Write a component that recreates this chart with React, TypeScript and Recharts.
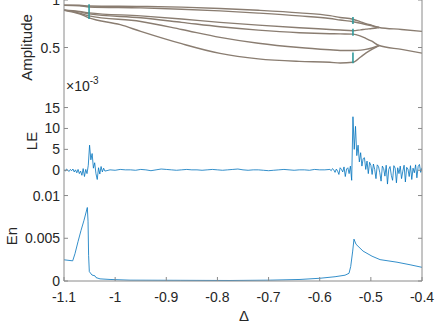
import React from 'react';
import { ComposedChart, Line, XAxis, YAxis } from 'recharts';

const FONT = '"Liberation Sans", Arial, Helvetica, sans-serif';
const TICK_COLOR = '#262626';
const AXIS_GRAY = '#8a8a8a';
const TL = 4;

// ---------- ticks ----------
const deltaTicks = [-1.1, -1, -0.9, -0.8, -0.7, -0.6, -0.5, -0.4];
const ampTicks = [0.5, 1];
const leTicks = [0, 5, 10, 15];
const enTicks = [0, 0.005, 0.01];
const deltaDomain: [number, number] = [-1.1, -0.4];

// ---------- panel 1: bifurcation branches [Δ, amplitude] ----------
const branch1 = [[-1.1, 0.945], [-1.07, 0.945], [-1.051, 0.9375], [-0.95, 0.932], [-0.87, 0.925], [-0.795, 0.911], [-0.72, 0.892], [-0.64, 0.865], [-0.58, 0.835], [-0.56, 0.816], [-0.535, 0.797], [-0.52, 0.77], [-0.51, 0.752], [-0.498, 0.733], [-0.484, 0.711], [-0.44, 0.69], [-0.4, 0.67]];
const branch2 = [[-1.1, 0.945], [-1.07, 0.94], [-1.051, 0.927], [-0.95, 0.917], [-0.87, 0.903], [-0.795, 0.885], [-0.72, 0.862], [-0.64, 0.833], [-0.58, 0.805], [-0.56, 0.789], [-0.535, 0.771], [-0.52, 0.755], [-0.51, 0.742], [-0.498, 0.727], [-0.484, 0.711]];
const branch3 = [[-1.1, 0.893], [-1.07, 0.88], [-1.051, 0.865], [-0.95, 0.833], [-0.87, 0.8], [-0.795, 0.764], [-0.72, 0.735], [-0.64, 0.708], [-0.58, 0.69], [-0.56, 0.684], [-0.535, 0.677], [-0.52, 0.686], [-0.51, 0.693], [-0.498, 0.7], [-0.484, 0.711]];
const branch4 = [[-1.1, 0.893], [-1.07, 0.875], [-1.051, 0.854], [-0.95, 0.8125], [-0.87, 0.765], [-0.795, 0.719], [-0.72, 0.683], [-0.64, 0.656], [-0.58, 0.645], [-0.56, 0.643], [-0.535, 0.641], [-0.52, 0.62], [-0.51, 0.597], [-0.498, 0.566], [-0.484, 0.521], [-0.44, 0.48], [-0.4, 0.441]];
const branch5 = [[-1.1, 0.893], [-1.07, 0.862], [-1.051, 0.833], [-0.95, 0.774], [-0.87, 0.69], [-0.795, 0.607], [-0.72, 0.545], [-0.64, 0.5], [-0.58, 0.476], [-0.56, 0.469], [-0.535, 0.469], [-0.52, 0.472], [-0.51, 0.48], [-0.498, 0.495], [-0.484, 0.521]];
const branch6 = [[-1.1, 0.893], [-1.07, 0.855], [-1.051, 0.8125], [-0.99, 0.74], [-0.95, 0.67], [-0.87, 0.54], [-0.795, 0.4375], [-0.72, 0.38], [-0.64, 0.354], [-0.58, 0.345], [-0.56, 0.337], [-0.535, 0.344], [-0.52, 0.4], [-0.51, 0.44], [-0.498, 0.48], [-0.484, 0.521]];
const branches = [branch1, branch2, branch3, branch4, branch5, branch6];

// transient bands at the bifurcation points
const band1 = [[-1.051, 0.955], [-1.051, 0.799]];
const band2 = [[-0.535, 0.82], [-0.535, 0.748]];
const band3 = [[-0.535, 0.698], [-0.535, 0.625]];
const band4 = [[-0.535, 0.448], [-0.535, 0.333]];
const bands = [band1, band2, band3, band4];

// ---------- panel 2: LE (×10^-3) ----------
const leStartA = -1.1, leStepA = 0.0025;
const leA = [0.1, -0.2, 0.3, 0.0, -0.3, 0.2, -0.1, 0.3, -0.4, 0.1, -0.6, 0.2, -0.8, -0.2, -1.2, 0.4, -1.5, 0.2, -0.8, 1.2, 6.0, 2.5, 4.0, 0.5, 1.8, -0.8, -2.2, 0.6, -0.9, 0.9, -0.4, 0.5, -0.2];
const leStartB = -1.01, leStepB = 0.01;
const leB = [0.1, 0.0, 0.2, 0.1, 0.1, 0.0, 0.2, 0.1, -0.1, 0.1, 0.3, 0.2, 0.1, 0.0, 0.1, 0.2, 0.1, 0.1, 0.0, 0.1, 0.2, 0.1, 0.0, 0.1, 0.2, 0.3, 0.1, 0.0, 0.1, 0.1, 0.0, -0.1, 0.0, 0.1, 0.2, 0.1, 0.0, 0.1, 0.1, 0.0, 0.2, 0.1, 0.1];
const leStartC = -0.58, leStepC = 0.0025;
const leC = [0.2, -0.1, 0.4, 0.1, -0.5, 0.3, -0.2, -1.0, 0.6, 0.2, -0.4, 0.8, -1.5, 0.3, 0.6, -0.8, 1.0, -2.4, 12.8, 5.0, 10.5, 3.5, 6.0, 2.0, 4.2, 1.0, 2.8, 3.0, 0.2, 2.2, -0.8, 1.9, 1.2, -1.0, 1.5, 0.2, -2.0, 1.3, 0.9, -0.6, -2.6, 1.0, 0.4, -1.4, 1.2, -3.3, 0.2, 0.9, -1.2, -2.4, 1.1, 0.5, -3.0, 0.6, -0.8, 1.0, -2.0, -0.2, 1.2, -2.8, 0.7, 0.3, -1.5, 1.1, -2.2, 0.5, -0.6, 1.3, -1.8, 0.9, 1.4, -0.5, 0.6];

// ---------- panel 3: En ----------
const enX = [-1.1, -1.083, -1.0785, -1.0726, -1.0668, -1.0609, -1.0544, -1.053, -1.0519, -1.0505, -1.0453, -1.0394, -1.0374, -1.0296, -1.01, -0.971, -0.873, -0.7754, -0.697, -0.6385, -0.5994, -0.57, -0.5505, -0.5427, -0.5394, -0.5355, -0.533, -0.529, -0.5153, -0.4977, -0.482, -0.4489, -0.4234, -0.4];
const enY = [0.00248, 0.00236, 0.0032, 0.0046, 0.0059, 0.0071, 0.0086, 0.007, 0.003, 0.0011, 0.0007, 0.0006, 0.0004, 0.00025, 0.00018, 0.0001, 0.00008, 0.00006, 0.0001, 0.00018, 0.00032, 0.0005, 0.00068, 0.0009, 0.0017, 0.0035, 0.0049, 0.0043, 0.0035, 0.0029, 0.0025, 0.0022, 0.0019, 0.0016];

// ---------- data builders ----------
const toPts = (arr: number[][]) => arr.map(([x, y]) => ({ x, y }));
const seg = (start: number, step: number, vals: number[]) => vals.map((y, i) => ({ x: +(start + step * i).toFixed(5), y }));
const leData = [...seg(leStartA, leStepA, leA), ...seg(leStartB, leStepB, leB), ...seg(leStartC, leStepC, leC)];
const enData = enX.map((x, i) => ({ x, y: enY[i] }));

// ---------- tick renderers ----------
const bottomTick = (label: boolean) => (p: any) => (
  <g>
    <line x1={p.x} x2={p.x} y1={p.y} y2={p.y - TL} stroke={AXIS_GRAY} strokeWidth={1} />
    {label && (
      <text x={p.x} y={p.y + 21} textAnchor="middle" fontSize={14} fontFamily={FONT} fill={TICK_COLOR}>
        {String(p.payload.value)}
      </text>
    )}
  </g>
);
const topTick = (p: any) => (
  <line x1={p.x} x2={p.x} y1={p.y} y2={p.y + TL} stroke={AXIS_GRAY} strokeWidth={1} />
);
const leftTick = (p: any) => (
  <g>
    <line x1={p.x} x2={p.x + TL} y1={p.y} y2={p.y} stroke={AXIS_GRAY} strokeWidth={1} />
    <text x={p.x - 4} y={p.y} dy="0.36em" textAnchor="end" fontSize={14} fontFamily={FONT} fill={TICK_COLOR}>
      {String(p.payload.value)}
    </text>
  </g>
);
const rightTick = (p: any) => (
  <line x1={p.x} x2={p.x - TL} y1={p.y} y2={p.y} stroke={AXIS_GRAY} strokeWidth={1} />
);

const commonX = {
  type: 'number' as const,
  dataKey: 'x',
  domain: deltaDomain,
  ticks: deltaTicks,
  allowDataOverflow: true,
  interval: 0 as const,
  tickSize: 0,
  tickMargin: 0,
  tickLine: false,
};

const yCommon = (domain: [number, number], ticks: number[]) => ({
  type: 'number' as const,
  domain,
  ticks,
  allowDataOverflow: true,
  interval: 0 as const,
  tickSize: 0,
  tickMargin: 0,
  tickLine: false,
});

export default function App() {
  return (
    <div style={{ position: 'fixed', left: 0, top: 0, width: 436, height: 327, overflow: 'hidden', background: '#fff' }}>
      {/* Panel 1 */}
      <div style={{ position: 'absolute', left: 0, top: -12 }}>
        <ComposedChart width={436} height={107} margin={{ top: 12, right: 0, bottom: 0, left: 0 }}>
          <XAxis xAxisId="b" {...commonX} height={0} tick={false} axisLine={false} />
          <XAxis xAxisId="t" orientation="top" {...commonX} height={0} tick={false} axisLine={{ stroke: AXIS_GRAY }} />
          <YAxis yAxisId="l" {...yCommon([0, 1], ampTicks)} width={64} tick={leftTick} axisLine={{ stroke: AXIS_GRAY }} />
          <YAxis yAxisId="r" orientation="right" {...yCommon([0, 1], ampTicks)} width={14} tick={rightTick} axisLine={{ stroke: AXIS_GRAY }} />
          {branches.map((b, i) => (
            <Line key={'o' + i} xAxisId="b" yAxisId="l" data={toPts(b)} dataKey="y" type="monotone" stroke="#8a7d71" strokeWidth={1.4} dot={false} activeDot={false} isAnimationActive={false} />
          ))}
          {bands.map((b, i) => (
            <Line key={'v' + i} xAxisId="b" yAxisId="l" data={toPts(b)} dataKey="y" type="linear" stroke="#2f9a9c" strokeWidth={1.6} dot={false} activeDot={false} isAnimationActive={false} />
          ))}
        </ComposedChart>
      </div>

      {/* Panel 2 */}
      <div style={{ position: 'absolute', left: 0, top: 75 }}>
        <ComposedChart width={436} height={112} margin={{ top: 20, right: 0, bottom: 0, left: 0 }}>
          <XAxis xAxisId="b" {...commonX} height={0} tick={bottomTick(false)} axisLine={false} />
          <XAxis xAxisId="t" orientation="top" {...commonX} height={0} tick={false} axisLine={{ stroke: '#1a1a1a' }} />
          <YAxis yAxisId="l" {...yCommon([-4, 18], leTicks)} width={64} tick={leftTick} axisLine={{ stroke: AXIS_GRAY }} />
          <YAxis yAxisId="r" orientation="right" {...yCommon([-4, 18], leTicks)} width={14} tick={rightTick} axisLine={{ stroke: AXIS_GRAY }} />
          <Line xAxisId="b" yAxisId="l" data={leData} dataKey="y" type="linear" stroke="#0072BD" strokeWidth={0.8} dot={false} activeDot={false} isAnimationActive={false} />
        </ComposedChart>
      </div>

      {/* Panel 3 */}
      <div style={{ position: 'absolute', left: 0, top: 182 }}>
        <ComposedChart width={436} height={145} margin={{ top: 5, right: 0, bottom: 0, left: 0 }}>
          <XAxis xAxisId="b" {...commonX} height={46} tick={bottomTick(true)} axisLine={{ stroke: AXIS_GRAY }} />
          <XAxis xAxisId="t" orientation="top" {...commonX} height={0} tick={topTick} axisLine={{ stroke: AXIS_GRAY, strokeWidth: 1.3 }} />
          <YAxis yAxisId="l" {...yCommon([0, 0.011], enTicks)} width={64} tick={leftTick} axisLine={{ stroke: AXIS_GRAY }} />
          <YAxis yAxisId="r" orientation="right" {...yCommon([0, 0.011], enTicks)} width={14} tick={rightTick} axisLine={{ stroke: AXIS_GRAY }} />
          <Line xAxisId="b" yAxisId="l" data={enData} dataKey="y" type="linear" stroke="#0072BD" strokeWidth={0.8} dot={false} activeDot={false} isAnimationActive={false} />
        </ComposedChart>
      </div>

      {/* axis titles */}
      <svg width={436} height={327} style={{ position: 'absolute', left: 0, top: 0, pointerEvents: 'none' }}>
        <text transform="translate(32,47.5) rotate(-90)" textAnchor="middle" fontSize={15} fontFamily={FONT} fill={TICK_COLOR}>Amplitude</text>
        <text transform="translate(36.5,141) rotate(-90)" textAnchor="middle" fontSize={15} fontFamily={FONT} fill={TICK_COLOR}>LE</text>
        <text transform="translate(16.5,236) rotate(-90)" textAnchor="middle" fontSize={15} fontFamily={FONT} fill={TICK_COLOR}>En</text>
        <text x={244} y={321} textAnchor="middle" fontSize={15} fontFamily={FONT} fill={TICK_COLOR}>Δ</text>
        <text x={66} y={91} fontSize={14} fontFamily={FONT} fill={TICK_COLOR}>
          ×10<tspan dy={-7} fontSize={10}>-3</tspan>
        </text>
      </svg>
    </div>
  );
}
